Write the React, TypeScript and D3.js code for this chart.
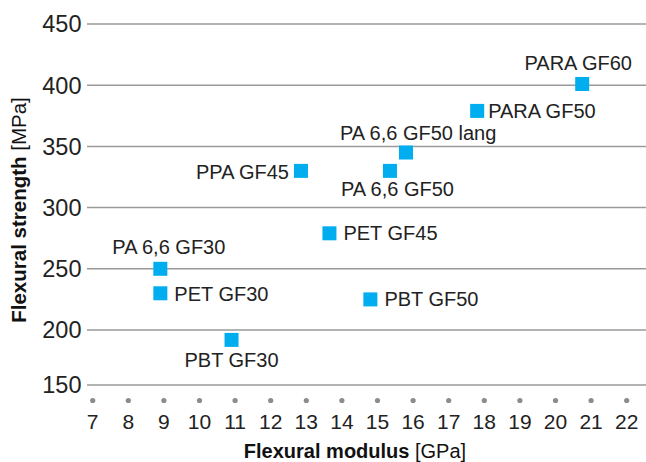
import React, { useEffect, useRef } from 'react';
import * as d3 from 'd3';

// material names, flexural modulus [GPa], flexural strength [MPa]
const materials = [
  'PA 6,6 GF30', 'PET GF30', 'PBT GF30', 'PPA GF45', 'PET GF45',
  'PBT GF50', 'PA 6,6 GF50', 'PA 6,6 GF50 lang', 'PARA GF50', 'PARA GF60',
];
const modulus = [8.9, 8.9, 10.9, 12.85, 13.65, 14.8, 15.35, 15.8, 17.8, 20.75];
const strength = [250, 230, 191, 330, 279, 225, 330, 345, 379, 401];

const xTicks = d3.range(7, 23);
const yTicks = [150, 200, 250, 300, 350, 400, 450];

// label placement relative to marker: [anchor, dx, dy]
const labelPlace: Record<string, [string, number, number]> = {
  'PA 6,6 GF30': ['start', -48, -22],
  'PET GF30': ['start', 14, 1],
  'PBT GF30': ['middle', 0, 20],
  'PPA GF45': ['end', -12, 1],
  'PET GF45': ['start', 14, 0],
  'PBT GF50': ['start', 14, 0],
  'PA 6,6 GF50': ['start', -49, 18],
  'PA 6,6 GF50 lang': ['start', -66, -20],
  'PARA GF50': ['start', 11, 0],
  'PARA GF60': ['middle', -4, -21],
};

const W = 646;
const H = 462;
const FONT = '"Liberation Sans", Arial, sans-serif';
const TEXT = '#222';
const BLUE = '#00aeef';

export default function App() {
  const ref = useRef<SVGSVGElement>(null);

  useEffect(() => {
    const svg = d3.select(ref.current);
    svg.selectAll('*').remove();

    const x = d3.scaleLinear().domain([7, 22]).range([92.7, 626.7]);
    // bottom band is a bit tighter than the rest in the original
    const y = d3.scaleLinear().domain([150, 200, 450]).range([385, 330, 24]);

    const g = svg.append('g').attr('font-family', FONT);

    // horizontal grid
    g.selectAll('.grid')
      .data(yTicks)
      .join('line')
      .attr('x1', 87)
      .attr('x2', W)
      .attr('y1', (d) => y(d))
      .attr('y2', (d) => y(d))
      .attr('stroke', '#9a9a9a')
      .attr('stroke-width', 1.5);

    g.selectAll('.ylab')
      .data(yTicks)
      .join('text')
      .attr('x', 81.5)
      .attr('y', (d) => y(d))
      .attr('dy', '0.36em')
      .attr('text-anchor', 'end')
      .attr('font-size', 23.5)
      .attr('fill', TEXT)
      .text((d) => d);

    // x ticks are dots below the baseline
    g.selectAll('.xdot')
      .data(xTicks)
      .join('circle')
      .attr('cx', (d) => x(d))
      .attr('cy', 400.5)
      .attr('r', 2.6)
      .attr('fill', '#8c8c8c');

    g.selectAll('.xlab')
      .data(xTicks)
      .join('text')
      .attr('x', (d) => x(d))
      .attr('y', 421)
      .attr('dy', '0.36em')
      .attr('text-anchor', 'middle')
      .attr('font-size', 21)
      .attr('fill', TEXT)
      .text((d) => d);

    // axis titles
    const xt = g.append('text')
      .attr('x', 355)
      .attr('y', 451)
      .attr('dy', '0.35em')
      .attr('text-anchor', 'middle')
      .attr('font-size', 20)
      .attr('fill', '#111');
    xt.append('tspan').attr('font-weight', 'bold').text('Flexural modulus');
    xt.append('tspan').text(' [GPa]');

    const yt = g.append('text')
      .attr('transform', 'translate(19,210) rotate(-90)')
      .attr('dy', '0.35em')
      .attr('text-anchor', 'middle')
      .attr('font-size', 20.5)
      .attr('fill', '#111');
    yt.append('tspan').attr('font-weight', 'bold').text('Flexural strength');
    yt.append('tspan').text(' [MPa]');

    const data = materials.map((name, i) => ({ name, mx: modulus[i], my: strength[i] }));
    const s = 14;

    g.selectAll('.pt')
      .data(data)
      .join('rect')
      .attr('x', (d) => x(d.mx) - s / 2)
      .attr('y', (d) => y(d.my) - s / 2)
      .attr('width', s)
      .attr('height', s)
      .attr('fill', BLUE);

    g.selectAll('.lbl')
      .data(data)
      .join('text')
      .attr('x', (d) => x(d.mx) + labelPlace[d.name][1])
      .attr('y', (d) => y(d.my) + labelPlace[d.name][2])
      .attr('dy', '0.35em')
      .attr('text-anchor', (d) => labelPlace[d.name][0])
      .attr('font-size', 20)
      .attr('fill', TEXT)
      .text((d) => d.name);
  }, []);

  return (
    <svg
      ref={ref}
      width={W}
      height={H}
      style={{ position: 'absolute', left: 0, top: 0, background: '#fff' }}
    />
  );
}
